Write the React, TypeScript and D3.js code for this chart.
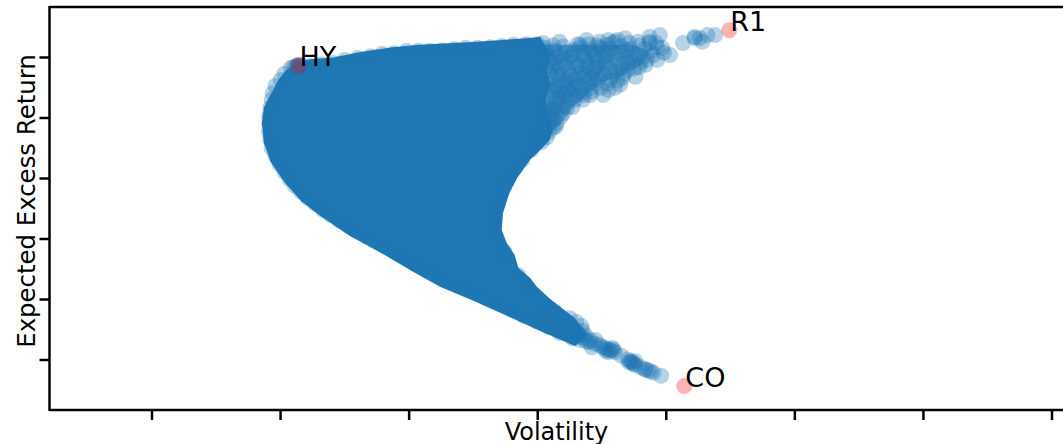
import React from "react";
import * as d3 from "d3";

const WIDTH = 1063;
const HEIGHT = 444;

const xTicks = [1, 2, 3, 4, 5, 6, 7, 8];
const yTicks = [1, 2, 3, 4, 5, 6];

type P = [number, number];

// Solid body of the cloud, outline (volatility, return)
const denseOutline: P[] = [
  [2.10,5.89],[2.03,5.76],[1.98,5.62],[1.94,5.45],[1.90,5.30],[1.87,5.17],[1.855,4.92],[1.87,4.59],[1.925,4.27],[2.03,3.94],
  [2.16,3.63],[2.31,3.38],[2.54,3.05],[2.80,2.75],[3.02,2.47],[3.24,2.21],[3.50,1.98],[3.76,1.73],[4.02,1.48],[4.29,1.23],
  [4.39,1.40],[4.29,1.69],[4.20,1.84],[4.09,2.02],[3.99,2.22],[3.94,2.36],[3.85,2.52],[3.82,2.74],[3.76,2.93],[3.72,3.15],
  [3.73,3.43],[3.78,3.76],[3.84,4.01],[3.94,4.31],[4.02,4.47],[4.09,4.63],[4.12,4.80],[4.09,5.05],[4.06,5.30],[4.10,5.55],
  [4.07,5.79],[4.10,6.04],[4.05,6.22],[4.02,6.34],[3.86,6.31],[3.53,6.26],[3.08,6.21],[2.87,6.17],[2.62,6.09],[2.41,6.00],
  [2.23,5.97],
];

// Busy part of the fan towards R1, where the discs overlap without quite saturating
const fanOutline: P[] = [
  [4.05,6.21],[4.48,6.21],[4.72,6.21],[4.87,6.12],[4.83,5.93],[4.68,5.71],[4.52,5.60],[4.41,5.43],[4.29,5.21],[4.17,4.88],[4.05,4.70],
];

const hyClusterPoints: P[] = [
  [2.14,5.86],[2.12,5.85],[2.16,5.87],[2.14,5.88],[2.10,5.84],[2.15,5.84],[2.13,5.87],[2.17,5.85],
];

const frontierPoints: P[] = [
  [2.08,5.83],[2.03,5.73],[2.00,5.63],[1.96,5.53],[1.94,5.41],[1.93,5.30],[1.92,5.17],[1.91,5.03],[1.91,4.90],[1.91,4.77],
  [1.92,4.64],[1.93,4.50],[1.96,4.37],[1.99,4.24],[2.03,4.11],[2.07,3.99],[2.11,3.88],[2.16,3.78],[2.21,3.68],[2.27,3.58],
  [2.33,3.48],[2.39,3.40],[2.46,3.30],[2.53,3.21],[2.60,3.13],[2.67,3.05],[2.74,2.97],[2.82,2.87],[2.90,2.79],[2.98,2.69],
  [3.06,2.59],[3.15,2.49],[3.24,2.39],[3.33,2.29],[3.43,2.19],[3.52,2.11],[3.61,2.01],[3.71,1.93],[3.80,1.83],[3.89,1.73],
  [3.99,1.64],[4.08,1.55],[4.17,1.45],[4.27,1.36],
];

const topEdgePoints: P[] = [
  [2.23,5.86],[2.32,5.89],[2.41,5.91],[2.50,5.96],[2.60,5.99],[2.70,6.02],[2.79,6.06],[2.88,6.07],[2.98,6.11],[3.07,6.11],
  [3.16,6.11],[3.26,6.12],[3.35,6.14],[3.44,6.16],[3.53,6.16],[3.63,6.17],[3.72,6.19],[3.81,6.21],[3.91,6.22],[4.00,6.22],
];

const innerEdgePoints: P[] = [
  [4.06,1.89],[3.95,2.09],[3.90,2.16],[3.85,2.40],[4.13,1.79],[4.08,1.73],[3.75,2.62],[3.74,2.79],[3.68,2.98],[3.65,3.15],
  [3.66,3.31],[3.67,3.45],[3.69,3.61],[3.71,3.78],[3.74,3.91],[3.78,4.07],[3.83,4.19],[3.88,4.31],[3.95,4.47],[4.03,4.60],
  [4.09,4.77],
];

const tailPoints: P[] = [
  [4.17,1.69],[4.21,1.63],[4.25,1.56],[4.29,1.50],[4.33,1.41],[4.25,1.69],[4.30,1.63],[4.34,1.56],[4.31,1.46],[4.37,1.41],
  [4.33,1.33],[4.41,1.33],[4.45,1.33],[4.42,1.21],[4.48,1.25],[4.52,1.20],[4.56,1.17],[4.58,1.20],[4.55,1.13],[4.60,1.13],
  [4.65,1.07],[4.72,0.98],[4.74,0.95],[4.76,0.98],[4.76,0.92],[4.83,0.85],[4.86,0.83],[4.90,0.79],[4.96,0.74],
  [4.36,1.36],[4.40,1.30],[4.44,1.27],[4.50,1.22],[4.54,1.18],[4.57,1.15],[4.53,1.15],[4.59,1.17],[4.70,1.01],[4.73,0.97],
  [4.75,0.93],[4.71,0.96],[4.80,0.88],[4.84,0.84],[4.88,0.81],[4.38,1.30],[4.32,1.38],[4.28,1.45],[4.35,1.48],
];

const fanPoints: P[] = [
  [4.17,6.26],[4.33,6.21],[4.38,6.29],[4.48,6.26],[4.55,6.29],[4.60,6.26],[4.68,6.32],[4.78,6.26],[4.87,6.34],[4.95,6.37],
  [4.87,6.24],[4.97,6.16],[5.03,6.04],[5.13,6.24],[5.22,6.34],[5.26,6.32],[5.28,6.26],[5.38,6.37],[5.32,6.37],[5.22,6.32],
  [4.44,5.83],[4.70,5.79],[4.79,5.84],[4.93,5.96],[4.64,5.55],[4.51,5.38],[4.76,5.68],[4.56,5.63],[4.33,5.51],[4.23,5.17],
  [4.35,5.30],[4.04,6.24],[4.48,6.17],[4.58,6.24],[4.54,6.04],[4.72,6.01],[4.69,6.12],[4.82,6.01],[4.33,6.16],[4.25,6.01],
  [4.38,5.96],[4.46,5.84],[4.43,5.76],[4.17,5.84],[4.09,5.58],[4.23,5.63],[4.33,5.74],[4.27,5.50],[4.17,5.30],[4.04,5.30],
  [4.04,4.97],[4.15,4.92],[3.96,4.75],[4.27,5.18],[4.20,5.08],[4.87,6.26],[4.93,6.17],[4.62,6.29],[4.54,6.21],[4.74,5.93],
  [4.85,5.96],[4.62,5.96],[4.58,5.71],[4.48,5.63],[4.41,5.50],[4.66,5.66],[4.08,6.04],[4.13,6.12],[4.09,5.79],[4.15,5.71],
  [4.21,5.88],[4.28,5.93],[4.37,5.71],[4.29,5.30],[4.21,5.38],[4.13,5.46],[4.08,5.13],[4.13,5.17],[4.09,4.88],[4.29,5.63],
  [4.41,6.12],[4.44,6.04],[4.52,5.88],[4.64,5.83],[4.28,6.12],[4.17,6.04],[4.13,5.93],[4.41,5.38],[4.25,5.43],[4.07,4.68],
  [4.02,4.80],
];

const fanFillPoints: P[] = [
  [4.20,6.18],[4.22,6.08],[4.19,5.97],[4.24,5.78],[4.19,5.72],[4.22,5.58],[4.19,5.50],[4.23,5.46],[4.18,5.40],[4.24,5.30],
  [4.19,5.20],[4.15,5.12],[4.18,5.02],[4.12,4.98],[4.10,5.06],[4.14,5.26],[4.17,5.62],[4.26,5.70],[4.30,5.85],[4.27,6.05],
  [4.31,6.22],[4.35,6.10],[4.36,6.02],[4.32,5.88],[4.38,5.84],[4.35,5.66],[4.30,5.56],[4.38,5.58],[4.34,5.42],[4.30,5.38],
  [4.36,5.38],[4.42,5.44],[4.45,5.58],[4.41,5.66],[4.46,5.72],[4.40,5.90],[4.47,5.96],[4.43,6.08],[4.46,6.20],[4.40,6.22],
  [4.50,6.14],[4.51,6.02],[4.56,6.14],[4.53,5.94],[4.56,5.82],[4.51,5.74],[4.54,5.56],[4.49,5.50],[4.55,5.46],[4.60,5.50],
  [4.62,5.62],[4.61,5.76],[4.67,5.72],[4.66,5.90],[4.60,6.06],[4.65,6.18],[4.63,6.08],[4.71,6.24],[4.72,6.14],[4.70,5.92],
  [4.75,5.82],[4.80,5.92],[4.76,6.06],[4.83,6.14],[4.79,6.20],[4.88,6.10],[4.90,6.04],[4.84,5.88],[4.92,6.24],[4.98,6.08],
  [4.07,6.10],[4.10,5.95],[4.06,5.85],[4.11,5.68],[4.08,5.48],[4.11,5.36],[4.07,5.22],[4.11,5.12],[4.09,4.95],[4.12,4.84],
  [4.06,6.16],[4.12,6.20],[4.14,6.00],[4.12,5.84],[4.14,5.52],[4.16,5.34],[4.06,5.06],[4.14,4.86],
];

const assetNames = ["HY", "R1", "CO"];
const assetVol = [2.14, 5.49, 5.14];
const assetRet = [5.86, 6.45, 0.57];

const BLUE = "#1f77b4";

export default function App() {
  const x = d3.scaleLinear().domain([1, 8]).range([152, 1052]);
  const y = d3.scaleLinear().domain([1, 6]).range([360, 57.5]);
  const outline = d3
    .line<P>()
    .x((d) => x(d[0]))
    .y((d) => y(d[1]))
    .curve(d3.curveLinearClosed);
  const cloud = [
    ...hyClusterPoints,
    ...frontierPoints,
    ...topEdgePoints,
    ...innerEdgePoints,
    ...tailPoints,
    ...fanPoints,
    ...fanFillPoints,
  ];
  const font = "DejaVu Sans";
  const left = 49.5;
  const bottom = 410;
  const top = 7;
  return (
    <svg
      width={WIDTH}
      height={HEIGHT}
      style={{ position: "fixed", left: 0, top: 0, background: "#fff" }}
      fontFamily={font}
    >
      <path d={outline(fanOutline) ?? ""} fill={BLUE} fillOpacity={0.55} />
      <path d={outline(denseOutline) ?? ""} fill={BLUE} />
      {cloud.map((d, i) => (
        <circle key={i} cx={x(d[0])} cy={y(d[1])} r={8} fill={BLUE} fillOpacity={0.33} />
      ))}
      {assetNames.map((n, i) => (
        <circle key={n} cx={x(assetVol[i])} cy={y(assetRet[i])} r={8} fill="red" fillOpacity={0.3} />
      ))}
      {assetNames.map((n, i) => (
        <text key={n} x={x(assetVol[i]) + 1} y={y(assetRet[i]) + 0.5} fontSize={27} fill="#000">
          {n}
        </text>
      ))}
      <line x1={left} x2={left} y1={top - 1} y2={bottom + 1} stroke="#000" strokeWidth={2.5} />
      <line x1={left} x2={WIDTH} y1={top} y2={top} stroke="#000" strokeWidth={2.5} />
      <line x1={left} x2={WIDTH} y1={bottom} y2={bottom} stroke="#000" strokeWidth={2.5} />
      {xTicks.map((t) => (
        <line key={t} x1={x(t)} x2={x(t)} y1={bottom} y2={bottom + 10} stroke="#000" strokeWidth={2.5} />
      ))}
      {yTicks.map((t) => (
        <line key={t} x1={left - 10} x2={left} y1={y(t)} y2={y(t)} stroke="#000" strokeWidth={2.5} />
      ))}
      <text x={556.5} y={439.5} textAnchor="middle" fontSize={24} fill="#000">
        Volatility
      </text>
      <text
        transform={`translate(35,201) rotate(-90)`}
        textAnchor="middle"
        fontSize={24.4}
        fill="#000"
      >
        Expected Excess Return
      </text>
    </svg>
  );
}
